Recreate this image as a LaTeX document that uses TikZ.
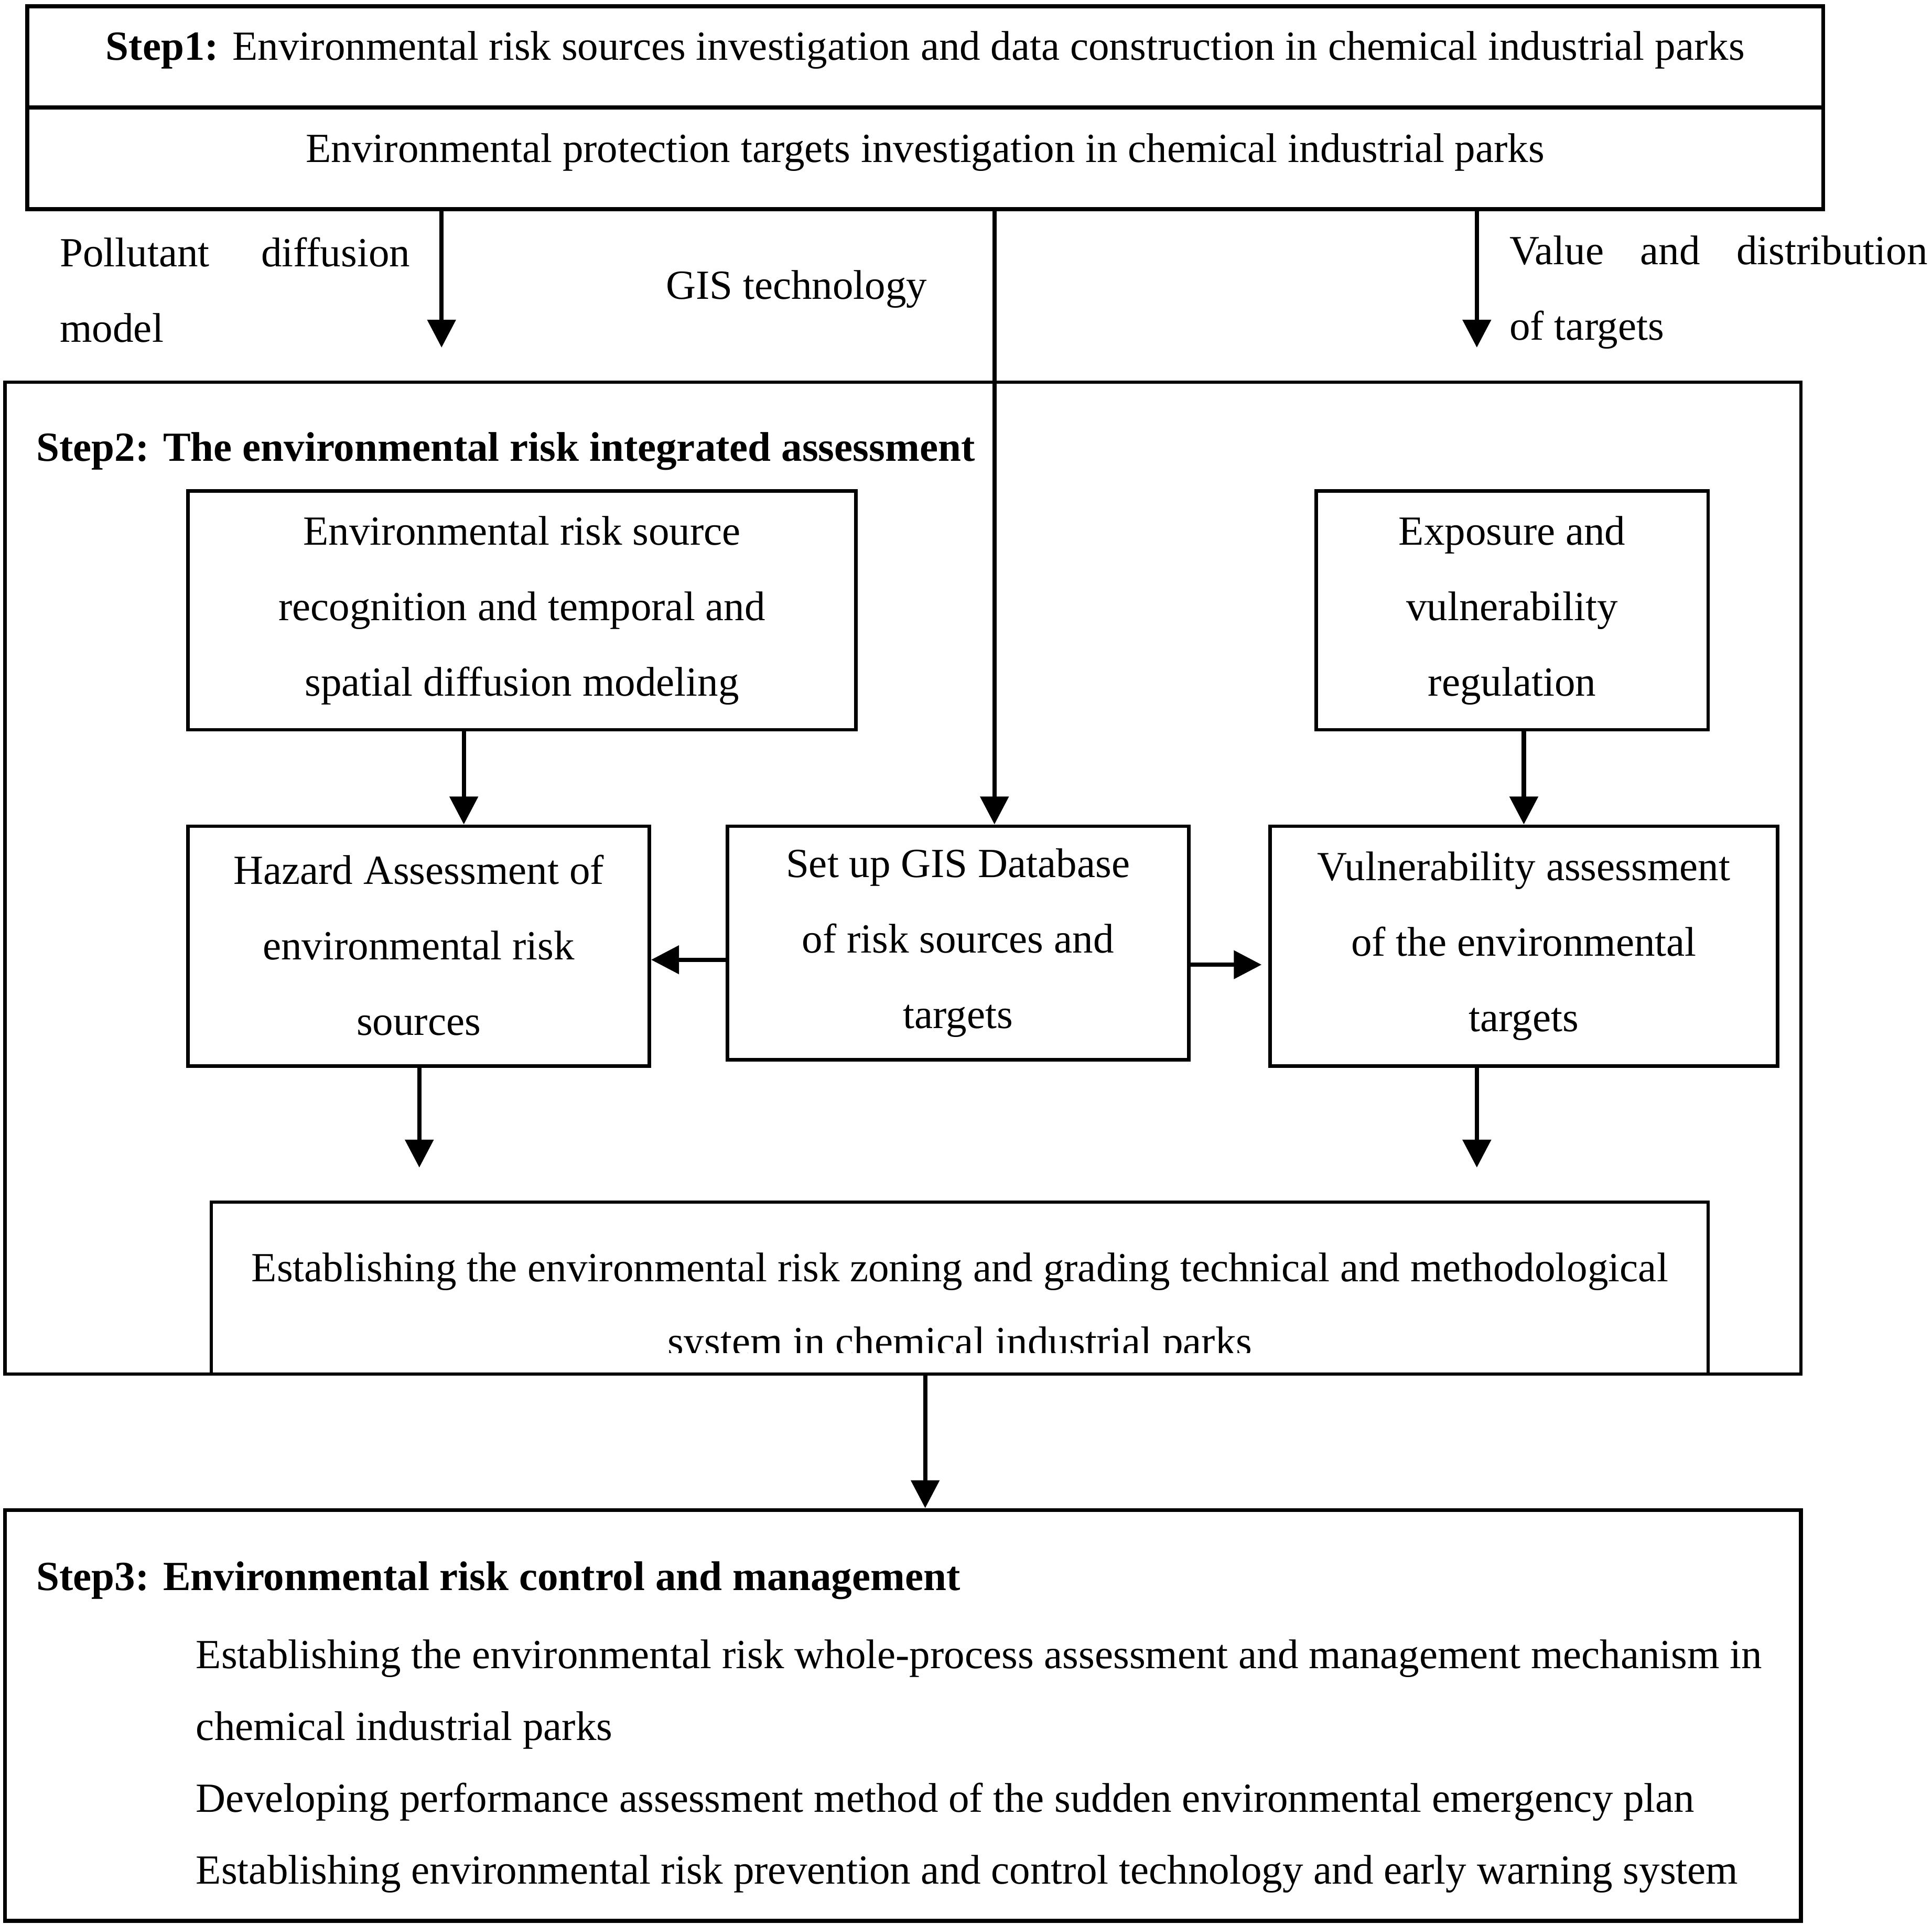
\documentclass[tikz,border=0pt]{standalone}
\usepackage{fontspec}
\setmainfont{Liberation Serif}
\usetikzlibrary{arrows.meta}
\begin{document}
\begin{tikzpicture}[x=0.4pt,y=-0.4pt,
  fnt/.style={font=\fontsize{13.4}{24.4}\selectfont},
  box/.style={draw,line width=1.15pt,inner sep=0pt,align=center,fnt},
  heavybox/.style={draw,line width=1.3pt,inner sep=0pt,align=center,fnt},
  txt/.style={inner sep=0pt,fnt},
  arr/.style={line width=1.4pt,-{Triangle[length=9pt,width=9pt]}}]
\useasboundingbox (0,0) rectangle (1562,1555.6);

% Step 1
\node[heavybox,minimum width=580.8pt,minimum height=32.8pt,text height=9pt,text depth=7pt] (s1a) at (748,46)
  {\textbf{Step1:} Environmental risk sources investigation and data construction in chemical industrial parks};
\node[heavybox,minimum width=580.8pt,minimum height=32.8pt,text height=9pt,text depth=6.6pt] (s1b) at (748,128)
  {Environmental protection targets investigation in chemical industrial parks};

% labels between step 1 and 2
\node[txt,anchor=west,align=left] (lpd) at (48,234.5)
  {\makebox[113.2pt][s]{Pollutant diffusion}\\model};
\node[txt,anchor=base] (lgis) at (644,242) {GIS technology};
\node[txt,anchor=west,align=left] (lval) at (1220,236.5)
  {\makebox[135.2pt][s]{Value and distribution}\\of targets};

% Step 2
\node[box,line width=1.1pt,minimum width=580.8pt,minimum height=320.8pt] (s2) at (730,710) {};
\node[txt,anchor=west] (s2t) at (29,365) {\textbf{Step2: The environmental risk integrated assessment}};

\node[box,minimum width=216pt,minimum height=77.2pt] (A) at (422,493.5)
  {Environmental risk source\\recognition and temporal and\\spatial diffusion modeling};
\node[box,minimum width=126.8pt,minimum height=77.2pt] (B) at (1222.5,493.5)
  {Exposure and\\vulnerability\\regulation};
\node[box,minimum width=149.2pt,minimum height=77.6pt,text depth=0.6pt] (C) at (338.5,765)
  {Hazard Assessment of\\environmental risk\\sources};
\node[box,minimum width=149.2pt,minimum height=75.6pt] (D) at (774.5,762.5)
  {Set up GIS Database\\of risk sources and\\targets};
\node[box,minimum width=164pt,minimum height=77.6pt] (E) at (1232,765)
  {Vulnerability assessment\\of the environmental\\targets};

\draw[line width=1pt] (171,1111) |- (1381,972) -- (1381,1111);
\coordinate (Fc) at (776,1058);
\begin{scope}
\clip (171,972) rectangle (1381,1094);
\node[txt,align=center,font=\fontsize{13.4}{24}\selectfont] (F) at (Fc)
  {Establishing the environmental risk zoning and grading technical and methodological\\system in chemical industrial parks};
\end{scope}

% Step 3
\node[heavybox,minimum width=580.8pt,minimum height=132.8pt] (s3) at (730,1387) {};
\node[txt,anchor=west] (s3t) at (29,1278) {\textbf{Step3: Environmental risk control and management}};
\node[txt,anchor=west,align=left,font=\fontsize{13.4}{23.2}\selectfont] (s3x) at (158,1428)
  {Establishing the environmental risk whole-process assessment and management mechanism in\\
   chemical industrial parks\\
   Developing performance assessment method of the sudden environmental emergency plan\\
   Establishing environmental risk prevention and control technology and early warning system};

% connector end points
\coordinate (t1) at (357,281);
\coordinate (t3) at (1194,281);
\coordinate (gx) at (804,0);
\coordinate (ax) at (375,0);
\coordinate (dl) at (0,776);
\coordinate (dr) at (0,780);
\coordinate (er) at (1020,780);
\coordinate (cd) at (339,944);
\coordinate (ed) at (1194,944);
\coordinate (mx) at (748,0);

\draw[arr] (s1b.south -| t1) -- (t1);
\draw[arr] (s1b.south -| gx) -- (D.north -| gx);
\draw[arr] (s1b.south -| t3) -- (t3);
\draw[arr] (A.south -| ax) -- (C.north -| ax);
\draw[arr] (B.south -| E.north) -- (E.north);
\draw[arr] (D.west |- dl) -- (C.east |- dl);
\draw[arr] (D.east |- dr) -- (er);
\draw[arr] (C.south -| cd) -- (cd);
\draw[arr] (E.south -| ed) -- (ed);
\draw[arr] (s2.south -| mx) -- (s3.north -| mx);
\end{tikzpicture}
\end{document}
